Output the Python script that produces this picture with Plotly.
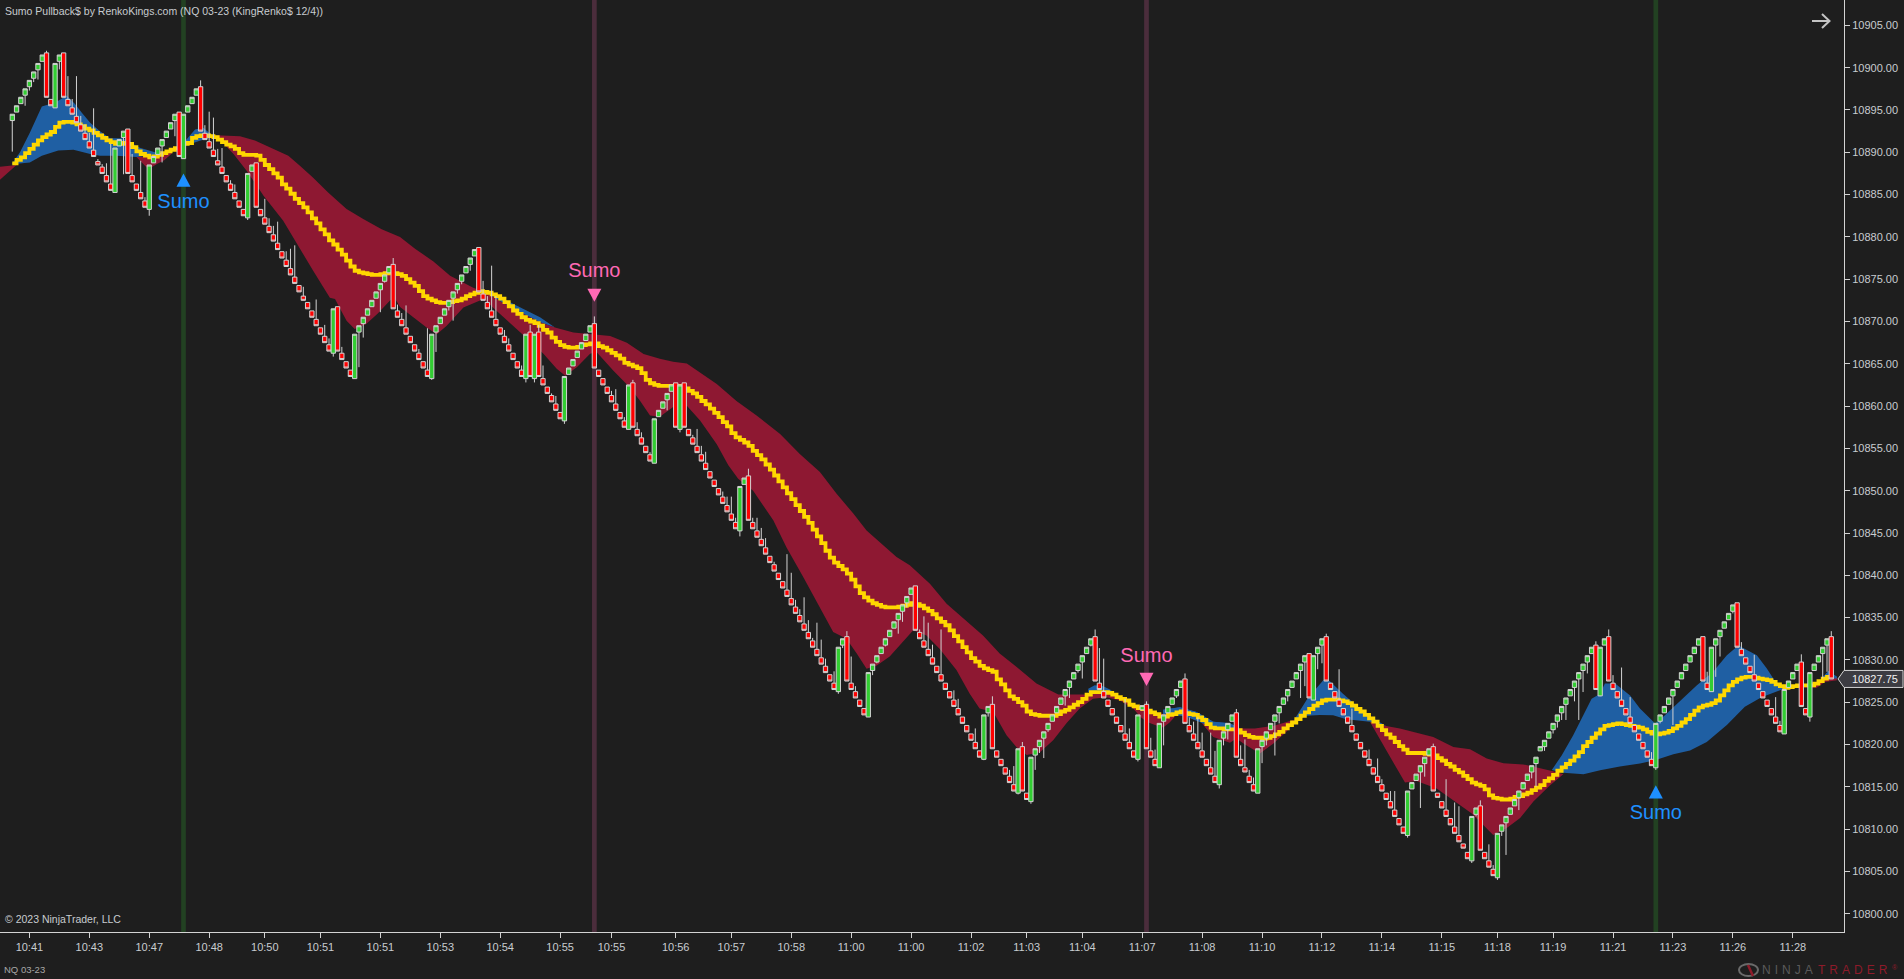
import plotly.graph_objects as go

W, H = 1904, 979
PLOT_W, PLOT_H = 1844, 932

price_base = 10800
x_range = [-2.87, 427.97]
y_range = [10797.84, 10908.0]

tick_bars = [4, 18, 32, 46, 59, 72, 86, 100, 114, 128, 140, 155, 168, 182, 196, 210, 224, 237, 250, 264,
             278, 292, 306, 320, 334, 347, 360, 374, 388, 402, 416]
tick_labels = ["10:41", "10:43", "10:47", "10:48", "10:50", "10:51", "10:51", "10:53", "10:54", "10:55", "10:55",
               "10:56", "10:57", "10:58", "11:00", "11:00", "11:02", "11:03", "11:04", "11:07", "11:08", "11:10",
               "11:12", "11:14", "11:15", "11:18", "11:19", "11:21", "11:23", "11:26", "11:28"]
price_ticks = list(range(10800, 10906, 5))

# prices below are offsets from price_base
bar_open = [
    93.75, 94.75, 95.75, 96.75, 97.75, 98.75, 99.75, 100.75, 101.75, 96.25,
    95.25, 100.75, 101.75, 96.25, 95.25, 94.25, 93.25, 92.25, 91.25, 90.25,
    88.9, 88.25, 87.25, 86.25, 85.25, 90.75, 91.75, 92.75, 87.25, 86.25,
    85.25, 84.25, 83.25, 88.75, 89.75, 90.75, 91.75, 92.75, 93.75, 94.75,
    89.25, 94.75, 95.75, 96.75, 97.75, 92.25, 91.25, 90.25, 89.0, 88.25,
    87.25, 86.25, 85.25, 84.25, 83.25, 82.25, 87.75, 88.75, 83.25, 82.25,
    81.25, 80.25, 79.25, 78.25, 77.25, 76.25, 75.25, 74.25, 73.0, 72.25,
    71.25, 70.25, 69.25, 68.25, 67.25, 66.25, 71.75, 66.25, 65.25, 64.25,
    63.25, 68.75, 69.75, 70.75, 71.75, 72.75, 73.75, 74.75, 75.75, 76.75,
    71.25, 70.25, 69.25, 68.25, 67.25, 66.25, 65.25, 64.25, 63.25, 68.75,
    69.75, 70.75, 71.75, 72.75, 73.75, 74.75, 75.75, 76.75, 77.75, 78.75,
    73.25, 72.25, 71.25, 70.25, 69.25, 68.25, 67.25, 66.25, 65.25, 64.25,
    63.25, 68.75, 63.25, 68.75, 63.25, 62.25, 61.25, 60.25, 59.25, 58.25,
    63.75, 64.75, 65.75, 66.75, 67.75, 68.75, 69.75, 64.25, 63.25, 62.25,
    61.25, 60.25, 59.25, 58.25, 57.25, 62.75, 57.25, 56.25, 55.25, 54.25,
    53.25, 58.75, 59.75, 60.75, 61.75, 62.75, 57.25, 62.75, 57.25, 56.25,
    55.25, 54.25, 53.25, 52.25, 51.25, 50.25, 49.25, 48.25, 47.25, 46.25,
    45.25, 50.75, 51.75, 46.25, 45.25, 44.25, 43.25, 42.25, 41.25, 40.25,
    39.25, 38.25, 37.25, 36.25, 35.25, 34.25, 33.25, 32.25, 31.25, 30.25,
    29.25, 28.25, 27.25, 26.25, 31.75, 32.75, 27.25, 26.25, 25.25, 24.25,
    23.25, 28.75, 29.75, 30.75, 31.75, 32.75, 33.75, 34.75, 35.75, 36.75,
    37.75, 38.75, 33.25, 32.25, 31.25, 30.25, 29.25, 28.25, 27.25, 26.25,
    25.25, 24.25, 23.25, 22.25, 21.25, 20.25, 19.25, 18.25, 23.75, 24.75,
    19.25, 18.25, 17.25, 16.25, 15.25, 14.25, 19.75, 14.25, 13.25, 18.75,
    19.75, 20.75, 21.75, 22.75, 23.75, 24.75, 25.75, 26.75, 27.75, 28.75,
    29.75, 30.75, 31.75, 32.75, 27.25, 26.25, 25.25, 24.25, 23.25, 22.25,
    21.25, 20.25, 19.25, 18.25, 24.1, 24.75, 19.25, 18.25, 17.25, 22.75,
    23.75, 24.75, 25.75, 26.75, 27.75, 22.25, 21.25, 20.25, 19.25, 18.25,
    17.25, 16.25, 15.25, 20.75, 21.75, 22.75, 23.75, 18.25, 17.25, 16.25,
    15.25, 14.25, 19.75, 20.75, 21.75, 22.75, 23.75, 24.75, 25.75, 26.75,
    27.75, 28.75, 29.75, 30.75, 25.25, 30.75, 31.75, 32.75, 27.25, 26.25,
    25.25, 24.25, 23.25, 22.25, 21.25, 20.25, 19.25, 18.25, 17.25, 16.25,
    15.25, 14.25, 13.25, 12.25, 11.25, 10.25, 9.25, 14.75, 15.75, 16.75,
    17.75, 18.75, 19.75, 14.25, 13.25, 12.25, 11.25, 10.25, 9.25, 8.25,
    7.25, 6.25, 11.75, 12.75, 7.25, 6.25, 5.25, 4.25, 9.75, 10.75,
    11.75, 12.75, 13.75, 14.75, 15.75, 16.75, 17.75, 19.25, 19.75, 20.75,
    21.75, 22.75, 23.75, 24.75, 25.75, 26.75, 27.75, 28.75, 29.75, 30.75,
    31.75, 25.75, 31.75, 32.75, 27.25, 26.25, 25.25, 24.25, 23.25, 22.25,
    21.25, 20.25, 19.25, 18.25, 17.25, 22.75, 23.75, 24.75, 25.75, 26.75,
    27.75, 28.75, 29.75, 30.75, 31.75, 32.75, 27.25, 26.25, 31.75, 32.75,
    33.75, 34.75, 35.75, 36.75, 31.25, 30.25, 29.25, 28.25, 27.25, 26.25,
    25.25, 24.25, 23.25, 22.25, 21.25, 26.75, 27.75, 28.75, 29.75, 24.25,
    23.25, 28.75, 29.75, 30.75, 31.75, 32.75,
]
bar_close = [
    94.5, 95.5, 96.5, 97.5, 98.5, 99.5, 100.5, 101.5, 96.5, 95.5,
    100.5, 101.5, 96.5, 95.5, 94.5, 93.5, 92.5, 91.5, 90.5, 89.5,
    88.5, 87.5, 86.5, 85.5, 90.5, 91.5, 92.5, 87.5, 86.5, 85.5,
    84.5, 83.5, 88.5, 89.5, 90.5, 91.5, 92.5, 93.5, 94.5, 89.5,
    94.5, 95.5, 96.5, 97.5, 92.5, 91.5, 90.5, 89.5, 88.5, 87.5,
    86.5, 85.5, 84.5, 83.5, 82.5, 87.5, 88.5, 83.5, 82.5, 81.5,
    80.5, 79.5, 78.5, 77.5, 76.5, 75.5, 74.5, 73.5, 72.5, 71.5,
    70.5, 69.5, 68.5, 67.5, 66.5, 71.5, 66.5, 65.5, 64.5, 63.5,
    68.5, 69.5, 70.5, 71.5, 72.5, 73.5, 74.5, 75.5, 76.5, 71.5,
    70.5, 69.5, 68.5, 67.5, 66.5, 65.5, 64.5, 63.5, 68.5, 69.5,
    70.5, 71.5, 72.5, 73.5, 74.5, 75.5, 76.5, 77.5, 78.5, 73.5,
    72.5, 71.5, 70.5, 69.5, 68.5, 67.5, 66.5, 65.5, 64.5, 63.5,
    68.5, 63.5, 68.5, 63.5, 62.5, 61.5, 60.5, 59.5, 58.5, 63.5,
    64.5, 65.5, 66.5, 67.5, 68.5, 69.5, 64.5, 63.5, 62.5, 61.5,
    60.5, 59.5, 58.5, 57.5, 62.5, 57.5, 56.5, 55.5, 54.5, 53.5,
    58.5, 59.5, 60.5, 61.5, 62.5, 57.5, 62.5, 57.5, 56.5, 55.5,
    54.5, 53.5, 52.5, 51.5, 50.5, 49.5, 48.5, 47.5, 46.5, 45.5,
    50.5, 51.5, 46.5, 45.5, 44.5, 43.5, 42.5, 41.5, 40.5, 39.5,
    38.5, 37.5, 36.5, 35.5, 34.5, 33.5, 32.5, 31.5, 30.5, 29.5,
    28.5, 27.5, 26.5, 31.5, 32.5, 27.5, 26.5, 25.5, 24.5, 23.5,
    28.5, 29.5, 30.5, 31.5, 32.5, 33.5, 34.5, 35.5, 36.5, 37.5,
    38.5, 33.5, 32.5, 31.5, 30.5, 29.5, 28.5, 27.5, 26.5, 25.5,
    24.5, 23.5, 22.5, 21.5, 20.5, 19.5, 18.5, 23.5, 24.5, 19.5,
    18.5, 17.5, 16.5, 15.5, 14.5, 19.5, 14.5, 13.5, 18.5, 19.5,
    20.5, 21.5, 22.5, 23.5, 24.5, 25.5, 26.5, 27.5, 28.5, 29.5,
    30.5, 31.5, 32.5, 27.5, 26.5, 25.5, 24.5, 23.5, 22.5, 21.5,
    20.5, 19.5, 18.5, 23.5, 24.6, 19.5, 18.5, 17.5, 22.5, 23.5,
    24.5, 25.5, 26.5, 27.5, 22.5, 21.5, 20.5, 19.5, 18.5, 17.5,
    16.5, 15.5, 20.5, 21.5, 22.5, 23.5, 18.5, 17.5, 16.75, 15.5,
    14.5, 19.5, 20.5, 21.5, 22.5, 23.5, 24.5, 25.5, 26.5, 27.5,
    28.5, 29.5, 30.5, 25.5, 30.5, 31.5, 32.5, 27.5, 26.5, 25.5,
    24.5, 23.5, 22.5, 21.5, 20.5, 19.5, 18.5, 17.5, 16.5, 15.5,
    14.5, 13.5, 12.5, 11.5, 10.5, 9.5, 14.5, 15.5, 16.5, 17.5,
    18.5, 19.5, 14.5, 13.75, 12.5, 11.5, 10.5, 9.5, 8.5, 7.75,
    6.5, 11.5, 12.5, 7.5, 6.5, 5.5, 4.5, 9.5, 10.5, 11.5,
    12.5, 13.5, 14.5, 15.5, 16.5, 17.5, 18.5, 19.75, 20.5, 21.5,
    22.5, 23.5, 24.5, 25.5, 26.5, 27.5, 28.5, 29.5, 30.5, 31.5,
    26.5, 31.5, 32.5, 27.5, 26.5, 25.5, 24.5, 23.5, 22.5, 21.5,
    20.5, 19.5, 18.5, 17.5, 22.5, 23.5, 24.5, 25.5, 26.5, 27.5,
    28.5, 29.5, 30.5, 31.5, 32.5, 27.5, 26.5, 31.5, 32.5, 33.5,
    34.5, 35.5, 36.5, 31.5, 30.5, 29.5, 28.5, 27.5, 26.5, 25.5,
    24.5, 23.5, 22.5, 21.5, 26.5, 27.5, 28.5, 29.5, 24.5, 23.5,
    28.5, 29.5, 30.5, 31.5, 32.5, 27.75,
]
upper_wicks = {
    8: 102, 13: 99, 14: 96.3, 15: 99, 16: 94.3, 17: 93.3, 18: 92.3, 19: 95.2, 20: 89.2, 21: 88.6, 22: 88.7, 23: 91,
    28: 89.8, 30: 89, 31: 84.7, 44: 98.5, 45: 93.2, 46: 94.8, 47: 94.1, 48: 90.4, 49: 90.5, 51: 86.7, 52: 86.2,
    59: 84.5, 60: 82.2, 61: 81.3, 62: 81.8, 64: 78.3, 65: 78.6, 66: 79, 68: 74.1, 71: 72.6, 73: 69.6, 74: 68, 77: 67,
    89: 77.5, 90: 72, 91: 71, 92: 71.9, 95: 66.75, 97: 69.2, 110: 74.8, 111: 73, 112: 76.6, 113: 73, 115: 69, 116: 68,
    119: 64.8, 121: 69.6, 123: 69.6, 124: 64.8, 126: 61.5, 127: 61.2, 136: 70.6, 140: 61.8, 141: 62, 143: 58.7,
    145: 63.1, 146: 58.1, 147: 56.9, 149: 54.55, 159: 56.6, 160: 57.3, 161: 55.3, 162: 54.6, 166: 49.9, 167: 49.3,
    168: 49.3, 169: 46.8, 172: 52.6, 173: 46.8, 174: 46.8, 175: 45.6, 176: 44.4, 178: 41.6, 181: 42.5, 182: 40.3,
    183: 37.1, 184: 36, 185: 37.4, 186: 34.7, 187: 32.6, 188: 34.4, 189: 32.4, 190: 30.15, 192: 28.65, 195: 33.4,
    196: 30.4, 197: 26.9, 212: 33.6, 213: 35.15, 214: 34.4, 215: 31.8, 217: 33.6, 220: 26.4, 221: 25.4, 225: 21.9,
    229: 25.7, 233: 17, 234: 17.45, 236: 20.3, 253: 33.6, 254: 31.4, 255: 30.15, 260: 25.4, 261: 21.9, 265: 25.1,
    266: 20.8, 267: 19.4, 274: 28.4, 275: 23.2, 276: 22.7, 277: 23.2, 278: 21.4, 280: 21.4, 281: 19.25, 286: 24.2,
    287: 19.9, 288: 20.6, 289: 17, 290: 16.1, 307: 33.1, 310: 28.9, 313: 24.25, 317: 19.4, 319: 18.35, 320: 15.9,
    322: 14.5, 323: 14.5, 332: 20.1, 335: 15.9, 337: 13.15, 338: 12.7, 343: 13.4, 345: 8.2, 346: 5.75, 370: 32.2,
    373: 33.6, 374: 28.2, 376: 29.1, 378: 25.6, 383: 19.1, 396: 28.6, 404: 32.1, 407: 30.6, 412: 25.6, 413: 22.8,
    418: 30.66, 425: 33.4,
}
lower_wicks = {
    0: 90.08, 3: 95.5, 4: 97.3, 5: 98.3, 6: 98.6, 11: 99.8, 26: 87.4, 32: 82.5, 34: 89.8, 35: 88.8, 36: 91.9, 38: 91.9,
    55: 82, 75: 65.85, 81: 64.6, 82: 68.1, 86: 71.1, 87: 74.6, 98: 63.1, 99: 66.4, 102: 71.3, 103: 70.1, 104: 73.3,
    105: 74.4, 107: 76, 120: 62.8, 122: 62.8, 129: 57.9, 135: 68.8, 153: 59.5, 156: 56.9, 170: 44.6, 194: 31.4,
    193: 26, 201: 28.2, 202: 29.6, 203: 30.7, 204: 31.6, 207: 33.1, 208: 34.5, 209: 36.2, 227: 18.15, 228: 23.3,
    235: 14.1, 238: 13, 239: 17, 240: 19, 241: 18.4, 242: 21.5, 246: 24.6, 247: 25.5, 249: 28.5, 250: 27.8, 251: 30.7,
    252: 31.6, 263: 18, 269: 19.9, 270: 23.7, 271: 25, 272: 25.5, 282: 14.8, 283: 19.9, 284: 20.6, 292: 17.8, 293: 19.9,
    294: 21.7, 295: 18.7, 296: 22.5, 298: 25.1, 300: 28, 301: 25.5, 302: 26.9, 305: 28.9, 306: 29.6, 326: 9, 329: 12.5,
    330: 16.2, 341: 6, 342: 11.5, 347: 4, 348: 9.2, 349: 6.95, 351: 12.76, 352: 12.25, 354: 15.7, 355: 16, 356: 15,
    358: 19.25, 360: 21.3, 361: 22, 362: 22.9, 363: 22.9, 365: 25.1, 366: 22.9, 367: 26.2, 368: 28.4, 371: 25.7,
    384: 17, 385: 22.5, 388: 22.3, 389: 26.9, 397: 26.4, 398: 28, 399: 30.4, 402: 35.5, 414: 21.5, 420: 22.7, 423: 27.8,
    424: 28.6,
}

yellow_line = [
    88.7, 89.1, 89.4, 89.9, 90.4, 90.9, 91.4, 91.8, 92.1, 92.4,
    93.0, 93.5, 93.6, 93.6, 93.5, 93.3, 93.1, 92.8, 92.6, 92.3,
    92.0, 91.7, 91.4, 91.2, 91.0, 91.0, 91.1, 91.0, 90.6, 90.1,
    89.8, 89.6, 89.4, 89.5, 89.7, 89.9, 90.1, 90.3, 90.5, 90.9,
    91.0, 91.1, 91.7, 91.9, 92.0, 92.0, 91.9, 91.8, 91.5, 91.2,
    90.9, 90.7, 90.4, 89.9, 89.7, 89.7, 89.7, 89.6, 89.1, 88.5,
    88.0, 87.5, 87.0, 86.2, 85.7, 85.1, 84.5, 84.0, 83.5, 82.9,
    82.2, 81.6, 80.9, 80.3, 79.6, 79.1, 78.5, 77.9, 77.2, 76.5,
    76.0, 75.8, 75.7, 75.6, 75.5, 75.5, 75.6, 75.7, 75.8, 75.7,
    75.6, 75.4, 75.0, 74.6, 74.2, 73.6, 73.0, 72.7, 72.5, 72.3,
    72.2, 72.2, 72.3, 72.4, 72.5, 72.7, 73.0, 73.2, 73.4, 73.6,
    73.5, 73.4, 73.2, 73.0, 72.7, 72.3, 71.8, 71.3, 70.9, 70.5,
    70.2, 70.0, 69.8, 69.5, 69.0, 68.7, 68.1, 67.6, 67.2, 67.0,
    66.9, 66.9, 67.0, 67.2, 67.3, 67.4, 67.4, 67.1, 66.9, 66.6,
    66.3, 66.0, 65.6, 65.1, 64.9, 64.7, 64.5, 63.9, 63.1, 62.7,
    62.5, 62.4, 62.4, 62.4, 62.4, 62.4, 62.3, 62.1, 61.8, 61.5,
    61.1, 60.6, 60.2, 59.7, 59.2, 58.7, 58.1, 57.6, 56.8, 56.3,
    56.0, 55.7, 55.3, 54.7, 54.2, 53.7, 53.1, 52.5, 51.8, 51.1,
    50.4, 49.7, 49.0, 48.3, 47.6, 46.9, 46.2, 45.4, 44.6, 43.8,
    42.9, 42.1, 41.5, 41.1, 40.7, 40.2, 39.5, 38.7, 37.9, 37.4,
    37.0, 36.7, 36.5, 36.3, 36.2, 36.2, 36.2, 36.3, 36.4, 36.5,
    36.7, 36.6, 36.4, 36.1, 35.8, 35.4, 34.9, 34.5, 34.1, 33.5,
    32.8, 32.2, 31.5, 30.9, 30.2, 29.8, 29.3, 29.0, 28.8, 28.6,
    27.7, 27.1, 26.4, 25.7, 25.4, 25.0, 24.6, 23.9, 23.6, 23.5,
    23.4, 23.4, 23.4, 23.4, 23.6, 23.9, 24.1, 24.4, 24.7, 25.0,
    25.4, 25.9, 26.2, 26.2, 26.2, 26.2, 26.1, 25.9, 25.6, 25.4,
    25.2, 24.7, 24.5, 24.3, 24.2, 24.0, 23.8, 23.6, 23.3, 23.3,
    23.5, 23.6, 23.8, 23.9, 23.7, 23.6, 23.5, 23.2, 22.9, 22.4,
    22.0, 21.9, 21.9, 21.8, 21.8, 21.8, 21.7, 21.4, 21.1, 20.9,
    20.8, 20.8, 20.7, 20.8, 21.0, 21.2, 21.5, 21.9, 22.3, 22.6,
    23.0, 23.4, 23.8, 24.2, 24.6, 24.9, 25.2, 25.3, 25.3, 25.3,
    25.2, 25.1, 24.9, 24.6, 24.2, 23.9, 23.5, 23.1, 22.7, 22.2,
    21.7, 21.2, 20.8, 20.3, 19.8, 19.4, 19.0, 19.0, 19.0, 19.0,
    18.9, 18.8, 18.7, 18.4, 18.1, 17.7, 17.4, 17.0, 16.7, 16.3,
    15.9, 15.5, 15.3, 15.1, 14.7, 14.0, 13.7, 13.6, 13.5, 13.5,
    13.6, 13.8, 13.9, 14.1, 14.3, 14.6, 14.9, 15.2, 15.7, 16.0,
    16.4, 16.9, 17.3, 17.7, 18.1, 18.6, 19.1, 19.8, 20.3, 20.8,
    21.3, 21.8, 22.2, 22.3, 22.4, 22.5, 22.4, 22.3, 22.2, 22.1,
    22.0, 21.8, 21.5, 21.3, 21.2, 21.3, 21.4, 21.6, 21.9, 22.2,
    22.6, 23.0, 23.5, 24.0, 24.4, 24.6, 24.7, 24.9, 25.2, 25.8,
    26.4, 27.0, 27.4, 27.7, 27.9, 28.0, 28.0, 27.9, 27.8, 27.7,
    27.6, 27.4, 27.1, 26.9, 26.7, 26.8, 26.9, 27.0, 27.0, 27.0,
    27.0, 27.2, 27.5, 27.8, 28.0, 28.1,
]

# cloud regions: (bar, price) edges
red_a_top = [(-2.9, 88.3), (-0.1, 88.4), (1, 88.5)]
red_a_bot = [(-2.9, 86.75), (1, 88.5)]
red_b_top = [(29, 89.45), (33.7, 89.6), (37.3, 90.1)]
red_b_bot = [(29, 89.45), (31.8, 88), (33.7, 88.6), (35.5, 89.05), (37.3, 89.85)]
blue_a_top = [(-0.15, 88.6), (1.8, 90), (4.1, 92.3), (6.9, 95.4), (8.8, 95.7), (10.75, 96.1), (12.7, 96.7), (14.65, 95.7),
              (16.2, 94.7), (18.2, 93.5), (20.5, 92.5), (22.8, 91.65), (25.9, 91.65), (29.8, 90.55), (33.7, 89.95)]
blue_a_bot = [(-0.15, 88.6), (4.1, 88.8), (6.9, 89.6), (10.75, 90.2), (14.3, 90.3), (18.2, 89.8), (20.5, 89.6),
              (24.4, 89.6), (29, 89.45), (33.7, 89.7)]
blue_b_top = [(37.3, 90.1), (40.7, 91.5), (42.7, 92.7), (44.6, 92.9), (47, 91.9), (47.5, 91.9)]
blue_b_bot = [(37.3, 90.1), (41.1, 90.9), (43.8, 91.35), (47.5, 91.9)]
blue_c_top = [(111.2, 73.4), (114, 72.93), (117.1, 72.06), (120.2, 71.27), (123.3, 70.5), (126.8, 69.3)]
blue_c_bot = [(111.2, 73.3), (114, 72.4), (117.1, 71.5), (120.2, 70.7), (123.3, 69.9), (126.8, 69.3)]
red_c_top = [(47.5, 92.0), (53.2, 91.9), (56.7, 91.4), (61, 90.4), (64.5, 89.6), (67.2, 88.4), (70.3, 87), (73.8, 85.25),
             (78.1, 83.3), (82, 82.1), (86.3, 80.9), (90.6, 80), (94.1, 78.6), (98.4, 77.1), (102.3, 75.4), (107.7, 74),
             (111.2, 73.3), (114, 72.4), (117.1, 71.5), (120.2, 70.7), (123.3, 69.9), (126.8, 69.3), (131.1, 68.7),
             (135.8, 68.45), (139.7, 68.3), (143.6, 67.5), (147.5, 66.15), (151.3, 65.6), (154.4, 65.25), (157.6, 65.05),
             (160.7, 64), (164.6, 62.6), (169.2, 60.6), (173.9, 58.9), (179.4, 56.7), (184, 54.35), (188.7, 52.2),
             (192.6, 49.65), (196.5, 47.3), (199.6, 45.3), (202.7, 43.9), (206.6, 42.15), (209.7, 41.2), (214.4, 39),
             (218.3, 36.65), (222.2, 34.9), (226.8, 32.9), (230.7, 30.75), (234.6, 29.2), (239.3, 27.2), (244.4, 25.9),
             (249.4, 25.9), (252.5, 25.9)]
red_c_bot = [(47.5, 92), (48.9, 91.35), (51.7, 89.8), (54.8, 87.8), (58.7, 84.85), (63.3, 81.9), (67.2, 78.55), (70.3, 76),
             (74.2, 72.8), (75.4, 72.65), (78.1, 70.1), (80, 69.1), (82.7, 69.7), (85.4, 70.95), (88.2, 72.45), (89.3, 72.8),
             (90.6, 71.7), (93.7, 70.5), (96.8, 69.3), (99.2, 68.5), (101.5, 69.5), (105.4, 71.65), (110.1, 72.65),
             (113.9, 70.9), (117.9, 69.1), (121.7, 67.35), (124.1, 66.2), (127.2, 64.4), (129.2, 63.6), (131.9, 64.6),
             (135, 66.2), (136.5, 66.4), (140.4, 64.2), (144.3, 62.2), (146.7, 60.6), (149, 58.9), (151.3, 58.75),
             (154.4, 59.9), (157.6, 60.05), (160.7, 58.3), (164.6, 55.5), (167.3, 53), (169.6, 51.4), (173.1, 50),
             (177.8, 46.5), (180.9, 43.3), (184.8, 39.8), (188.7, 36.25), (191.8, 33.3), (194.9, 32.5), (197.3, 30.75),
             (199.6, 28.95), (202, 29.35), (205, 30.4), (207.4, 31.7), (210.5, 33.5), (213.6, 32.9), (216.7, 31.3),
             (220.6, 28.8), (223.7, 26), (226, 24.25), (229.2, 23.85), (232.3, 21.1), (234.6, 19.7), (237, 18.75),
             (240.1, 19.1), (243.2, 20.5), (246.3, 22.5), (249.4, 24.25), (252.5, 25.4)]
blue_d_top = [(251.4, 26.6), (252.9, 27), (254.9, 26.9), (256.8, 26.4)]
blue_d_bot = [(251.4, 26.2), (256.8, 26.2)]
red_d_top = [(252.5, 26), (256.8, 26), (260, 25.3), (262, 24.6), (265.8, 24), (268.9, 23.6), (272, 23.6)]
red_d_bot = [(252.5, 25.4), (255.7, 25.6), (258.8, 25.2), (261.9, 24.25), (263.5, 23.3), (265, 22.7), (267, 22.3),
             (268.9, 22), (270.4, 22.6), (272, 23.5)]
blue_e_top = [(268.9, 24.1), (272.8, 24.4), (276.7, 23.85), (280.6, 22.7), (284.5, 22.5), (286, 22.1)]
blue_e_bot = [(268.9, 23.6), (272, 23.5), (274.3, 23.3), (277.8, 22.6), (280.6, 21.9), (286, 21.9)]
red_e_top = [(277.8, 22.6), (280.6, 21.9), (286, 21.9), (290.3, 21.9), (294.6, 22.2), (299.3, 22.9)]
red_e_bot = [(277.8, 22.6), (280.6, 20.9), (284.5, 20.2), (286, 20.7), (288, 20), (291.5, 18.95), (294.6, 20.1),
             (297.7, 21.5), (299.6, 22.7)]
blue_f_top = [(299.6, 23), (302.4, 25.25), (304.3, 26.4), (306.3, 27.6), (307.8, 27.5), (310.9, 26), (314, 24.65),
              (317.2, 23.3), (321, 22.2)]
blue_f_bot = [(299.6, 22.7), (302.4, 23.4), (305.5, 23.5), (308.6, 23.45), (311.7, 23), (317.2, 22.7), (321, 22.2)]
red_f_top = [(317.2, 22.7), (321, 22.2), (324.2, 21.9), (328.1, 21.4), (332, 20.9), (336.7, 19.7), (340.6, 19.45),
             (344.5, 18.35), (348.4, 17.8), (353, 17.65), (357.7, 17.15), (360, 16.85), (362.4, 16.5)]
red_f_bot = [(317.2, 22.7), (319.55, 20.7), (321.9, 18.55), (325.4, 15.5), (328.1, 15.7), (332.8, 14.8), (336.7, 13.4),
             (341, 11.85), (346, 9.3), (349.1, 10.1), (352.3, 11.3), (355.4, 13.25), (359.3, 15.2), (362.4, 16.5)]
blue_g_top = [(359.7, 17), (362, 18.7), (364.7, 21.1), (367, 23.3), (369, 25.4), (371, 26), (372.1, 27.2), (374.5, 27.2),
              (378, 25.8), (380.3, 24.25), (383.8, 22.5), (385.8, 23.3), (389.7, 25.2), (393.6, 27), (397.4, 28.6),
              (400.6, 30.55), (403.3, 31.7), (407.6, 30.55), (409.9, 29), (412.2, 27.2), (414.6, 26.7)]
blue_g_bot = [(359.7, 17), (362.4, 16.65), (367.1, 16.5), (371, 16.95), (375.6, 17.4), (380.3, 17.75), (383.8, 18.15),
              (388.1, 18.85), (392, 19.3), (395.9, 20.3), (400.6, 22.3), (404.8, 24.45), (408.7, 25.6), (413, 26.4),
              (414.6, 26.7)]
red_g_top = [(414.6, 26.7), (415.4, 27), (421.6, 27.2), (423.5, 27.8), (426.3, 27.85)]
red_g_bot = [(414.6, 26.7), (421.6, 26.7), (423.5, 27.4), (426.3, 27.6)]
blue_h_top = [(422.8, 27.8), (424.3, 28.7), (426.3, 28)]
blue_h_bot = [(422.8, 27.8), (426.3, 27.8)]

red_regions = [(red_a_top, red_a_bot), (red_b_top, red_b_bot), (red_c_top, red_c_bot), (red_d_top, red_d_bot),
               (red_e_top, red_e_bot), (red_f_top, red_f_bot), (red_g_top, red_g_bot)]
blue_regions = [(blue_a_top, blue_a_bot), (blue_b_top, blue_b_bot), (blue_c_top, blue_c_bot), (blue_d_top, blue_d_bot),
                (blue_e_top, blue_e_bot), (blue_f_top, blue_f_bot), (blue_g_top, blue_g_bot), (blue_h_top, blue_h_bot)]

signal_bars = [40, 136, 265, 384]
signal_dirs = [1, -1, -1, 1]
signal_marker_price = [86.7, 73.1, 27.7, 14.4]
signal_text_price = [84.0, 75.9, 30.3, 11.8]
signal_colors = ["#1E90FF", "#FF69B4", "#FF69B4", "#1E90FF"]
signal_columns = ["rgba(50,205,50,0.2)", "rgba(255,105,180,0.2)", "rgba(255,105,180,0.2)", "rgba(50,205,50,0.2)"]
last_price = 10827.75

BG = "#1E1E1E"
RED = "#8E1832"
BLUE = "#1F5FA3"
YELLOW = "#FFD700"
AXIS = "#D3D3D3"
TEXT = "#C8CCD0"
FONT = "Liberation Sans"
TRI_HALF_W = 7 * (x_range[1] - x_range[0]) / PLOT_W
TRI_HALF_H = 6.6 * (y_range[1] - y_range[0]) / PLOT_H

assert len(bar_open) == len(bar_close) == len(yellow_line) == 426

bars = list(range(len(bar_open)))
opens = [price_base + v for v in bar_open]
closes = [price_base + v for v in bar_close]
highs = [price_base + max(o, c, upper_wicks.get(i, o)) for i, (o, c) in enumerate(zip(bar_open, bar_close))]
lows = [price_base + min(o, c, lower_wicks.get(i, c)) for i, (o, c) in enumerate(zip(bar_open, bar_close))]

fig = go.Figure()


def add_region(top, bottom, color):
    xs = [p[0] for p in top] + [p[0] for p in reversed(bottom)]
    ys = [price_base + p[1] for p in top] + [price_base + p[1] for p in reversed(bottom)]
    fig.add_trace(go.Scatter(x=xs, y=ys, mode="lines", line=dict(width=0, color=color), fill="toself",
                             fillcolor=color, hoverinfo="skip", showlegend=False))


add_region(red_a_top, red_a_bot, RED)
add_region(red_b_top, red_b_bot, RED)
add_region(blue_a_top, blue_a_bot, BLUE)
add_region(blue_b_top, blue_b_bot, BLUE)
for t, b in blue_regions[2:]:
    add_region(t, b, BLUE)
for t, b in red_regions[2:]:
    add_region(t, b, RED)
add_region(blue_e_top, blue_e_bot, BLUE)
add_region(blue_h_top, blue_h_bot, BLUE)

for b, c in zip(signal_bars, signal_columns):
    fig.add_trace(go.Scatter(x=[b, b], y=y_range, mode="lines", line=dict(width=4.7, color=c),
                             hoverinfo="skip", showlegend=False))

fig.add_trace(go.Scatter(x=bars, y=[price_base + v for v in yellow_line], mode="lines",
                         line=dict(color=YELLOW, width=3.8, shape="hv"), hoverinfo="skip", showlegend=False))

fig.add_trace(go.Candlestick(
    x=bars, open=opens, high=highs, low=lows, close=closes, xaxis="x2", yaxis="y2",
    increasing=dict(fillcolor="#32CD32", line=dict(color=AXIS, width=1)),
    decreasing=dict(fillcolor="#FF0000", line=dict(color=AXIS, width=1)),
    whiskerwidth=0, hoverinfo="skip", showlegend=False))

for b, d, mp, tp, col in zip(signal_bars, signal_dirs, signal_marker_price, signal_text_price, signal_colors):
    centre = price_base + mp
    fig.add_trace(go.Scatter(x=[b - TRI_HALF_W, b + TRI_HALF_W, b, b - TRI_HALF_W],
                             y=[centre - d * TRI_HALF_H, centre - d * TRI_HALF_H, centre + d * TRI_HALF_H,
                                centre - d * TRI_HALF_H],
                             xaxis="x2", yaxis="y2", mode="lines", line=dict(width=0, color=col), fill="toself",
                             fillcolor=col, hoverinfo="skip", showlegend=False))
    fig.add_trace(go.Scatter(x=[b], y=[price_base + tp], xaxis="x2", yaxis="y2", mode="text", text=["Sumo"],
                             textposition="middle center", textfont=dict(family=FONT, size=20, color=col),
                             hoverinfo="skip", showlegend=False))


def fx(px):
    return px / PLOT_W


def fy(py):
    return 1 - py / PLOT_H


gap = "\u2004"
annotations = [
    dict(text="Sumo Pullback$ by RenkoKings.com (NQ 03-23 (KingRenko$ 12/4))", x=fx(5), y=fy(11), xanchor="left",
         font=dict(family=FONT, size=10.5, color=TEXT)),
    dict(text="© 2023 NinjaTrader, LLC", x=fx(5), y=fy(919), xanchor="left",
         font=dict(family=FONT, size=10.5, color=TEXT)),
    dict(text="NQ 03-23", x=fx(4), y=fy(969), xanchor="left",
         font=dict(family=FONT, size=9.5, color="#A8A8A8")),
    dict(text=gap.join("NINJA"), x=fx(1762), y=fy(970), xanchor="left",
         font=dict(family=FONT, size=12, color="#5A5A5A")),
    dict(text=gap.join("TRADER"), x=fx(1818), y=fy(970), xanchor="left",
         font=dict(family=FONT, size=12, color="#8E1B2A")),
    dict(text="®", x=fx(1892), y=fy(967), xanchor="left",
         font=dict(family=FONT, size=7, color="#8E1B2A")),
    dict(text="10827.75", x=fx(1875), y=last_price, yref="y", xanchor="center",
         font=dict(family=FONT, size=11, color="#F0F0F0")),
]
for a in annotations:
    a.setdefault("xref", "paper")
    a.setdefault("yref", "paper")
    a.update(showarrow=False, yanchor="middle", borderpad=0, borderwidth=0)

tag = 8.5 / (PLOT_H / (y_range[1] - y_range[0]))
tag_path = (f"M {fx(1838)} {last_price} L {fx(1844)} {last_price + tag} L {fx(1903)} {last_price + tag} "
            f"L {fx(1903)} {last_price - tag} L {fx(1844)} {last_price - tag} Z")
arrow_path = (f"M {fx(1812)} {fy(21)} L {fx(1829.5)} {fy(21)} M {fx(1822)} {fy(14)} L {fx(1829.5)} {fy(21)} "
              f"L {fx(1822)} {fy(28)}")

shapes = [
    dict(type="path", xref="paper", yref="y", path=tag_path, fillcolor="#3C3C42", line=dict(color=AXIS, width=1),
         layer="above"),
    dict(type="path", xref="paper", yref="paper", path=arrow_path, line=dict(color="#C4C4C4", width=2), layer="above"),
    dict(type="circle", xref="paper", yref="paper", x0=fx(1739), x1=fx(1758), y0=fy(976), y1=fy(964),
         line=dict(color="#6A6A6A", width=2), layer="above"),
    dict(type="line", xref="paper", yref="paper", x0=fx(1748), x1=fx(1753), y0=fy(965), y1=fy(976),
         line=dict(color="#8E1B2A", width=2.5), layer="above"),
]

fig.update_layout(
    width=W, height=H, margin=dict(l=0, r=W - PLOT_W, t=0, b=H - PLOT_H, pad=0, autoexpand=False),
    paper_bgcolor=BG, plot_bgcolor=BG, showlegend=False, hovermode=False, dragmode=False, boxgap=0, boxgroupgap=0,
    xaxis=dict(range=x_range, tickmode="array", tickvals=tick_bars, ticktext=tick_labels, ticks="outside", ticklen=5,
               tickwidth=1, tickcolor=AXIS, showline=True, linecolor=AXIS, linewidth=1, showgrid=False, zeroline=False,
               tickfont=dict(family=FONT, size=11, color=TEXT), rangeslider=dict(visible=False), fixedrange=True,
               tickangle=0),
    yaxis=dict(range=y_range, side="right", tickmode="array", tickvals=price_ticks, tickformat=".2f", ticks="outside",
               ticklen=5, tickwidth=1, tickcolor=AXIS, showline=True, linecolor=AXIS, linewidth=1, showgrid=False,
               zeroline=False, tickfont=dict(family=FONT, size=11, color=TEXT), fixedrange=True),
    xaxis2=dict(range=x_range, overlaying="x", visible=False, rangeslider=dict(visible=False), fixedrange=True),
    yaxis2=dict(range=y_range, overlaying="y", visible=False, fixedrange=True),
    annotations=annotations, shapes=shapes,
)

fig.write_html("out.html", config=dict(displayModeBar=False),
               post_script="document.body.style.margin='0';document.body.style.overflow='hidden';")
